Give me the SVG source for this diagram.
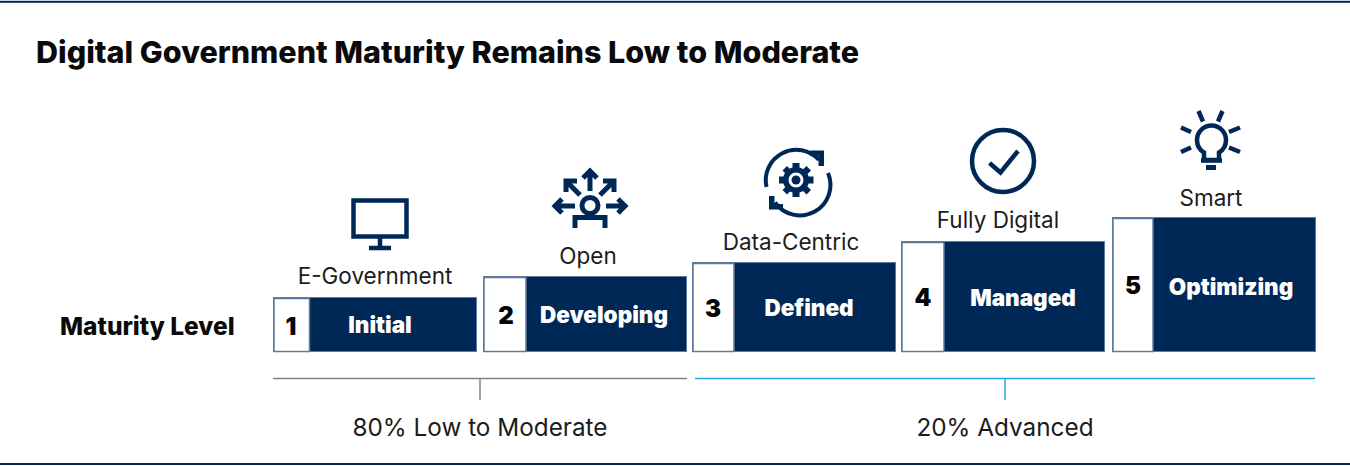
<svg xmlns="http://www.w3.org/2000/svg" width="1350" height="466" viewBox="0 0 1350 466">
<style>
text{font-family:Inter,"Liberation Sans",sans-serif}
.title{font-size:30.5px;font-weight:800;fill:#0a0a0a}
.ml{font-size:24.5px;font-weight:800;fill:#0a0a0a}
.lab{font-size:22.500px;font-weight:400;fill:#1c1c1c;text-anchor:middle}
.foot{font-size:24.300px;font-weight:400;fill:#1c1c1c;text-anchor:middle}
.num{font-size:24px;font-weight:900;fill:#050505;text-anchor:middle}
.name{font-size:22.500px;font-weight:900;fill:#fff;text-anchor:middle}
.bar{fill:#002856;stroke:#5f7a9b;stroke-width:1}
.cell{fill:#fff;stroke:#5f7a9b;stroke-width:1.500}
.ic{fill:none;stroke:#002856;stroke-width:4.5}
.icf{fill:#002856;stroke:none}
</style>
<rect width="1350" height="466" fill="#fff"/>
<rect x="0" y="0.8" width="1350" height="2" fill="#002856"/>
<rect x="0" y="463" width="1350" height="2" fill="#002856"/>
<text class="title" x="36" y="62.500">Digital Government Maturity Remains Low to Moderate</text>
<text class="ml" x="60" y="334.500">Maturity Level</text>

<g id="level-1">
<rect class="bar" x="273.500" y="297.500" width="203" height="54"/>
<rect class="cell" x="274" y="298.500" width="35.500" height="53"/>
<text class="num" x="291" y="335">1</text>
<text class="name" x="380" y="333">Initial</text>
<text class="lab" x="375" y="283.500">E-Government</text>
<g class="ic"><rect x="353.500" y="200.500" width="53" height="36"/><path d="M380 237V247"/><path d="M369 248H391"/></g>
</g>

<g id="level-2">
<rect class="bar" x="483.500" y="276.500" width="203" height="75"/>
<rect class="cell" x="484" y="277.500" width="42" height="74"/>
<text class="num" x="506" y="324">2</text>
<text class="name" x="604" y="323">Developing</text>
<text class="lab" x="588" y="263.500">Open</text>
<g class="ic" style="stroke-width:5">
<circle cx="590" cy="205.500" r="8"/>
<path d="M575 228V217.500H605V228"/>
<path d="M590 191V173M583 178L590 171L597 178"/>
<path d="M580 195L566 181M566 192V181H577"/>
<path d="M600 195L614 181M603 181H614V192"/>
<path d="M575 206H556M562 199L555 206L562 213"/>
<path d="M606 206H624M618 199L625 206L618 213"/>
</g>
</g>

<g id="level-3">
<rect class="bar" x="692.500" y="262.500" width="203" height="89"/>
<rect class="cell" x="693" y="263.500" width="41" height="88"/>
<text class="num" x="713" y="317">3</text>
<text class="name" x="809" y="316">Defined</text>
<text class="lab" x="791" y="250">Data-Centric</text>
<g class="ic" style="stroke-width:4">
<path d="M766.500 187A30.500 30.500 0 0 1 819 160"/>
<path d="M828 173A30.500 30.500 0 0 1 775 202.500"/>
</g>
<g class="icf">
<path d="M810 150.500H824V166H818.500V156H810Z"/>
<path d="M769 196H774.500V204H783V209.500H769Z"/>
<path d="M792.500 163H799.500V197H792.500ZM779 176.500H813.500V183.500H779Z"/>
<path d="M782.500 170.500L787 166L811 190L806.500 194.500ZM806.500 166L811 170.500L787 194.500L782.500 190Z"/>
<circle cx="796" cy="180" r="13"/>
<circle cx="796" cy="180" r="7.500" fill="#fff"/>
<circle cx="796" cy="180" r="4.500"/>
</g>
</g>

<g id="level-4">
<rect class="bar" x="901.500" y="241.500" width="203" height="110"/>
<rect class="cell" x="902" y="242.500" width="42" height="109"/>
<text class="num" x="923" y="306">4</text>
<text class="name" x="1023" y="306">Managed</text>
<text class="lab" x="998" y="227.500">Fully Digital</text>
<g class="ic">
<circle cx="1003" cy="161" r="31"/>
<path d="M989.500 163L1000.500 172.500L1018 151"/>
</g>
</g>

<g id="level-5">
<rect class="bar" x="1112.500" y="217.500" width="203" height="134"/>
<rect class="cell" x="1113" y="218.500" width="40" height="133"/>
<text class="num" x="1133" y="294">5</text>
<text class="name" x="1231" y="295">Optimizing</text>
<text class="lab" x="1211" y="205.500">Smart</text>
<g class="ic">
<path d="M1204 160V152.500C1198 149 1197 144 1197 140A14.500 14.500 0 0 1 1226 140C1226 144 1225 149 1219 152.500V160Z"/>
<path d="M1201 160.500H1222"/>
<path d="M1206 167.500H1216" stroke-width="5"/>
<path d="M1198.500 111L1203 121.500M1222.500 111L1218 121.500M1181 127.500L1191 132M1240 127.500L1229 132M1181 152L1191 147.500M1240 152L1229 147.500"/>
</g>
</g>

<g id="connectors">
<path d="M273 378.500H687M480 378V400" fill="none" stroke="#7d8486" stroke-width="1.500"/>
<path d="M695 378.500H1315M1005 378V400" fill="none" stroke="#2aa8e0" stroke-width="1.500"/>
</g>
<text class="foot" x="480" y="436">80% Low to Moderate</text>
<text class="foot" x="1005" y="436">20% Advanced</text>
</svg>
